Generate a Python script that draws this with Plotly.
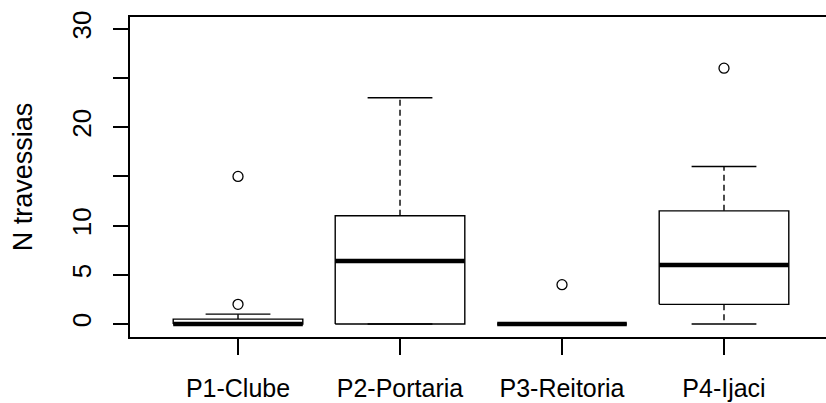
import plotly.graph_objects as go

# Crossings counted at each observation point
categories = ["P1-Clube", "P2-Portaria", "P3-Reitoria", "P4-Ijaci"]
lower_whisker = [0, 0, 0, 0]
q1 = [0, 0, 0, 2]
median = [0, 6.4, 0, 6]
q3 = [0.5, 11, 0, 11.5]
upper_whisker = [1, 23, 0, 16]
outliers = [[2, 15], [], [4], [26]]

y_ticks = [0, 5, 10, 15, 20, 25, 30]
y_tick_text = ["0", "5", "10", "", "20", "", "30"]

BOX_HALF = 0.4
STAPLE_HALF = 0.2
INK = "black"

fig = go.Figure()

for i, name in enumerate(categories):
    x = i + 1
    # box body
    fig.add_trace(go.Scatter(
        x=[x - BOX_HALF, x + BOX_HALF, x + BOX_HALF, x - BOX_HALF, x - BOX_HALF],
        y=[q1[i], q1[i], q3[i], q3[i], q1[i]],
        mode="lines", line=dict(color=INK, width=1.4),
        hoverinfo="skip", showlegend=False))
    # whiskers (dashed)
    for a, b in ((q3[i], upper_whisker[i]), (q1[i], lower_whisker[i])):
        if a != b:
            fig.add_trace(go.Scatter(
                x=[x, x], y=[a, b], mode="lines",
                line=dict(color=INK, width=1.4, dash="6px,4px"),
                hoverinfo="skip", showlegend=False))
    # staples
    for v in (upper_whisker[i], lower_whisker[i]):
        fig.add_trace(go.Scatter(
            x=[x - STAPLE_HALF, x + STAPLE_HALF], y=[v, v], mode="lines",
            line=dict(color=INK, width=1.4),
            hoverinfo="skip", showlegend=False))
    # median
    fig.add_trace(go.Scatter(
        x=[x - BOX_HALF, x + BOX_HALF], y=[median[i], median[i]], mode="lines",
        line=dict(color=INK, width=4.5),
        hoverinfo="skip", showlegend=False))
    # outliers
    if outliers[i]:
        fig.add_trace(go.Scatter(
            x=[x] * len(outliers[i]), y=outliers[i], mode="markers",
            marker=dict(symbol="circle-open", size=10, color=INK,
                        line=dict(width=1.3, color=INK)),
            showlegend=False))

FAMILY = "Liberation Sans, Arial, sans-serif"
x_font = dict(family=FAMILY, size=25, color="black")
y_font = dict(family=FAMILY, size=26, color="black")
title_font = dict(family=FAMILY, size=27, color="black")

fig.update_layout(
    width=826, height=403,
    margin=dict(l=130, r=0, t=17, b=66),
    paper_bgcolor="white", plot_bgcolor="white",
    font=x_font,
    xaxis=dict(
        range=[0.3333, 4.6296],
        tickvals=[1, 2, 3, 4], ticktext=categories,
        showgrid=False, zeroline=False,
        showline=True, linecolor=INK, linewidth=1.5, mirror=True,
        ticks="outside", ticklen=16, tickwidth=1.5, tickcolor=INK,
        ticklabelstandoff=12,
        tickfont=x_font,
    ),
    yaxis=dict(
        range=[-1.32, 31.2],
        tickvals=y_ticks, ticktext=y_tick_text,
        tickangle=-90,
        showgrid=False, zeroline=False,
        showline=True, linecolor=INK, linewidth=1.5,
        ticks="outside", ticklen=15, tickwidth=1.5, tickcolor=INK,
        ticklabelstandoff=12,
        tickfont=y_font,
        title=dict(text="N travessias", font=title_font, standoff=26),
    ),
)

fig.write_html("out.html")
